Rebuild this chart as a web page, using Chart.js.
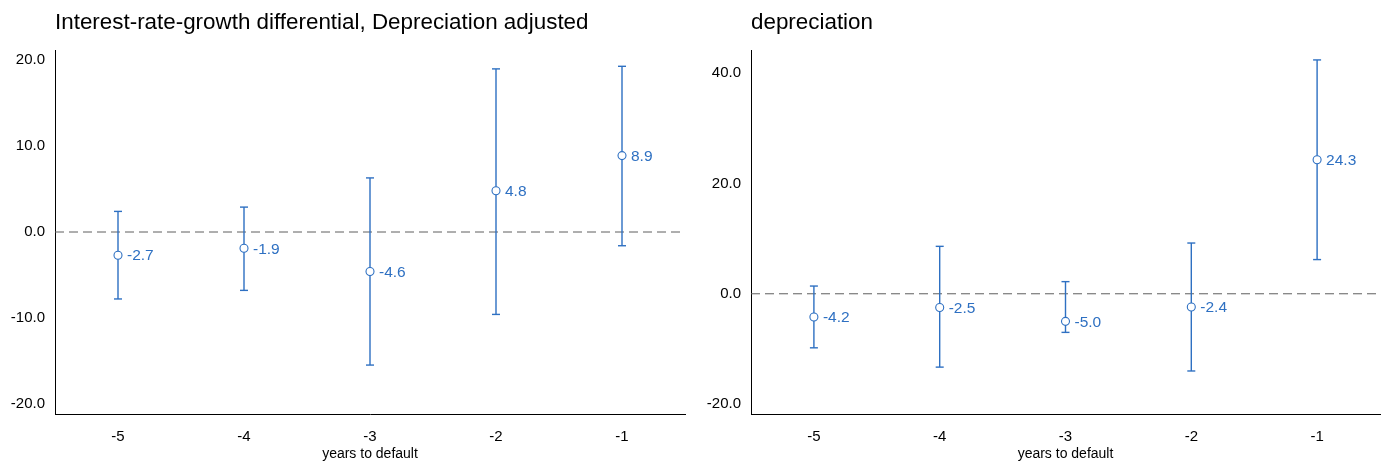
<!DOCTYPE html>
<html>
<head>
<meta charset="utf-8">
<script src="https://cdn.jsdelivr.net/npm/chart.js@4.4.1/dist/chart.umd.min.js"></script>
<style>
  body { margin: 0; background: #fff; width: 1390px; height: 465px; overflow: hidden; position: relative; font-family: 'Liberation Sans', Arial, sans-serif; }
  .panel { position: absolute; top: 0; width: 695px; height: 465px; }
  .titulo { position: absolute; top: 9px; font-size: 22.4px; line-height: 26px; color: #000; white-space: nowrap; }
</style>
</head>
<body>
<div class="panel" style="left:0"><canvas id="graficoIzq" width="695" height="465"></canvas></div>
<div class="panel" style="left:695px"><canvas id="graficoDer" width="695" height="465"></canvas></div>
<div class="titulo" style="left:55px">Interest-rate-growth differential, Depreciation adjusted</div>
<div class="titulo" style="left:751px">depreciation</div>
<script>
// datos
const years = [-5, -4, -3, -2, -1];
const xTicks = [-5, -4, -3, -2, -1];

const irgEst = [-2.7, -1.9, -4.6, 4.8, 8.9];
const irgLow = [-7.8, -6.8, -15.5, -9.6, -1.6];
const irgHigh = [2.4, 2.9, 6.3, 19.0, 19.3];
const irgTicks = [-20, -10, 0, 10, 20];

const depEst = [-4.2, -2.5, -5.0, -2.4, 24.3];
const depLow = [-9.8, -13.3, -7.0, -14.0, 6.2];
const depHigh = [1.4, 8.6, 2.2, 9.2, 42.4];
const depTicks = [-20, 0, 20, 40];

const azul = "#2e70c2";
Chart.defaults.font.family = "'Liberation Sans', Arial, sans-serif";
Chart.defaults.color = "#000";

// etiquetas de valor junto a cada punto
const etiquetas = {
  id: "etiquetas",
  afterDatasetsDraw(chart) {
    const ctx = chart.ctx;
    const meta = chart.getDatasetMeta(0);
    const valores = chart.data.datasets[0].data;
    ctx.save();
    ctx.font = "15.5px 'Liberation Sans', Arial, sans-serif";
    ctx.fillStyle = azul;
    ctx.textAlign = "left";
    ctx.textBaseline = "middle";
    meta.data.forEach((el, i) => {
      ctx.fillText(valores[i].y.toFixed(1), el.x + 9, el.y + 1);
    });
    ctx.restore();
  },
};

function crearGrafico(id, est, low, high, yTicks, yMin, yMax, yWidth) {
  const puntos = years.map((x, i) => ({ x: x, y: est[i] }));
  // barras de intervalo: dos puntos por anio y un null para cortar la linea
  let barras = [];
  years.forEach((x, i) => {
    barras.push({ x: x, y: low[i] });
    barras.push({ x: x, y: high[i] });
    barras.push({ x: x, y: null });
  });

  return new Chart(document.getElementById(id).getContext("2d"), {
    type: "scatter",
    data: {
      datasets: [
        {
          data: puntos,
          pointStyle: "circle",
          pointRadius: 4,
          pointBorderWidth: 1.1,
          pointBorderColor: azul,
          pointBackgroundColor: "#fff",
        },
        {
          data: barras,
          showLine: true,
          spanGaps: false,
          borderColor: azul,
          borderWidth: 1.4,
          pointStyle: "line",
          pointRadius: 4,
          pointBorderWidth: 1.4,
          pointBorderColor: azul,
        },
        {
          data: [{ x: -5.5, y: 0 }, { x: -0.5, y: 0 }],
          showLine: true,
          borderColor: "#5e5e5e",
          borderWidth: 1,
          borderDash: [9, 5],
          pointRadius: 0,
        },
      ],
    },
    options: {
      responsive: false,
      animation: false,
      layout: { padding: { top: 50, right: 10, bottom: 0, left: 0 } },
      plugins: { legend: { display: false }, tooltip: { enabled: false } },
      scales: {
        x: {
          type: "linear",
          min: -5.5,
          max: -0.5,
          grid: { display: false, drawTicks: false },
          border: { display: true, color: "#000", width: 1 },
          afterBuildTicks: (scale) => {
            scale.ticks = xTicks.map((v) => ({ value: v }));
          },
          afterFit: (scale) => {
            scale.height = 51;
          },
          ticks: {
            padding: 14,
            font: { size: 15 },
            callback: (v) => String(v),
          },
          title: {
            display: true,
            text: "years to default",
            font: { size: 14 },
            padding: { top: 0, bottom: 2.5 },
          },
        },
        y: {
          min: yMin,
          max: yMax,
          grid: { display: false, drawTicks: false },
          border: { display: true, color: "#000", width: 1 },
          afterBuildTicks: (scale) => {
            scale.ticks = yTicks.map((v) => ({ value: v }));
          },
          afterFit: (scale) => {
            scale.width = yWidth;
          },
          ticks: {
            padding: 10,
            font: { size: 15 },
            callback: (v) => v.toFixed(1),
          },
        },
      },
    },
    plugins: [etiquetas],
  });
}

crearGrafico("graficoIzq", irgEst, irgLow, irgHigh, irgTicks, -21.2, 21.2, 55);
crearGrafico("graficoDer", depEst, depLow, depHigh, depTicks, -21.8, 44.2, 56);
</script>
</body>
</html>
